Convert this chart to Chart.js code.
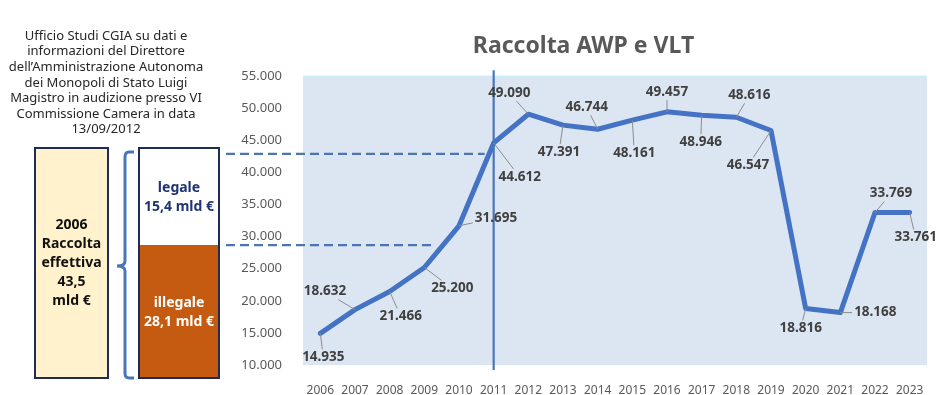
<!DOCTYPE html>
<html>
<head>
<meta charset="utf-8">
<script src="https://cdn.jsdelivr.net/npm/chart.js@4"></script>
<style>
  html, body { margin: 0; padding: 0; background: #fff; }
  #wrap { width: 945px; height: 395px; }
</style>
</head>
<body>
<div id="wrap"><canvas id="raccoltaChart"></canvas></div>
<script>
const years = ["2006", "2007", "2008", "2009", "2010", "2011", "2012", "2013", "2014",
  "2015", "2016", "2017", "2018", "2019", "2020", "2021", "2022", "2023"];
const raccolta = [14935, 18632, 21466, 25200, 31695, 44612, 49090, 47391, 46744,
  48161, 49457, 48946, 48616, 46547, 18816, 18168, 33769, 33761];
const yMin = 10000, yMax = 55000, yStep = 5000;

const sourceLines = [
  "Ufficio Studi CGIA su dati e",
  "informazioni del Direttore",
  "dell\u2019Amministrazione Autonoma",
  "dei Monopoli di Stato Luigi",
  "Magistro in audizione presso VI",
  "Commissione Camera in data",
  "13/09/2012"
];
const boxTotal = ["2006", "Raccolta", "effettiva", "43,5", "mld \u20ac"];
const boxLegale = ["legale", "15,4 mld \u20ac"];
const boxIllegale = ["illegale", "28,1 mld \u20ac"];
const dashedLevels = [42900, 28700];
const markerYear = "2011";

// where each value label sits relative to its point (px)
const labelOffsets = [
  [3, 24], [-30, -18], [11, 25], [28, 21], [37, -8], [26, 34], [-19, -21], [-4, 27], [-11, -22],
  [2, 33], [0, -20], [-1, 27], [13, -22], [-23, 35], [-5, 20], [35, 0], [16, -19], [6, 25]
];

const FONT = "'Noto Sans', sans-serif";
const fmt = (v) => String(v).replace(/\B(?=(\d{3})+(?!\d))/g, ".");

const decorations = {
  id: "decorations",
  beforeDraw(chart) {
    const { ctx, chartArea: a } = chart;
    ctx.save();
    ctx.fillStyle = "#dce6f2";
    ctx.fillRect(a.left, a.top, a.right - a.left, a.bottom - a.top);
    ctx.strokeStyle = "#cdeef8";
    ctx.lineWidth = 1.5;
    ctx.beginPath();
    ctx.moveTo(a.left, a.top);
    ctx.lineTo(a.right, a.top);
    ctx.stroke();
    ctx.restore();
  },
  beforeDatasetsDraw(chart) {
    const { ctx, chartArea: a, scales: { x, y } } = chart;
    ctx.save();
    ctx.strokeStyle = "#4a76b8";
    ctx.lineWidth = 2.2;
    const mx = x.getPixelForValue(years.indexOf(markerYear));
    ctx.beginPath();
    ctx.moveTo(mx, a.top - 6);
    ctx.lineTo(mx, a.bottom + 5);
    ctx.stroke();

    ctx.setLineDash([9, 5]);
    const ends = [mx - 9, x.getPixelForValue(3) + 10];
    dashedLevels.forEach((lv, i) => {
      const py = y.getPixelForValue(lv);
      ctx.beginPath();
      ctx.moveTo(226, py);
      ctx.lineTo(ends[i], py);
      ctx.stroke();
    });
    ctx.restore();
  },
  afterDatasetsDraw(chart) {
    const { ctx } = chart;
    const pts = chart.getDatasetMeta(0).data;
    ctx.save();
    ctx.font = "bold 13.5px " + FONT;
    ctx.textAlign = "center";
    ctx.textBaseline = "middle";
    pts.forEach((p, i) => {
      const txt = fmt(raccolta[i]);
      const [dx, dy] = labelOffsets[i];
      const cx = p.x + dx, cy = p.y + dy;
      const hw = ctx.measureText(txt).width / 2 + 2, hh = 8;
      const vx = p.x - cx, vy = p.y - cy;
      const s = Math.min(vx ? hw / Math.abs(vx) : Infinity, vy ? hh / Math.abs(vy) : Infinity);
      if (s < 1) {
        ctx.strokeStyle = "#8c8c8c";
        ctx.lineWidth = 1;
        ctx.beginPath();
        ctx.moveTo(cx + vx * s, cy + vy * s);
        ctx.lineTo(p.x, p.y);
        ctx.stroke();
      }
      ctx.fillStyle = "#404040";
      ctx.fillText(txt, cx, cy);
    });
    ctx.restore();
  },
  afterDraw(chart) {
    const { ctx } = chart;
    ctx.save();
    ctx.textAlign = "center";
    ctx.textBaseline = "middle";

    ctx.fillStyle = "#262626";
    ctx.font = "13px " + FONT;
    sourceLines.forEach((t, i) => ctx.fillText(t, 106, 36 + i * 15.6));

    // total box
    ctx.fillStyle = "#fff2cc";
    ctx.fillRect(35, 148, 73, 230);
    ctx.strokeStyle = "#1f2a55";
    ctx.lineWidth = 2;
    ctx.strokeRect(35, 148, 73, 230);
    ctx.fillStyle = "#111";
    ctx.font = "bold 14px " + FONT;
    boxTotal.forEach((t, i) => ctx.fillText(t, 71.5, 225 + i * 19));

    // legale / illegale box
    ctx.fillStyle = "#c55a11";
    ctx.fillRect(139, 245, 80, 133);
    ctx.strokeRect(139, 148, 80, 230);
    ctx.fillStyle = "#1f3472";
    boxLegale.forEach((t, i) => ctx.fillText(t, 179, 188 + i * 19));
    ctx.fillStyle = "#fff";
    boxIllegale.forEach((t, i) => ctx.fillText(t, 179, 303 + i * 19));

    // brace
    ctx.strokeStyle = "#4a76b8";
    ctx.lineWidth = 3;
    ctx.beginPath();
    ctx.moveTo(134, 152);
    ctx.lineTo(129, 152);
    ctx.quadraticCurveTo(125, 152, 125, 157);
    ctx.lineTo(125, 261);
    ctx.quadraticCurveTo(125, 266, 117, 266);
    ctx.quadraticCurveTo(125, 266, 125, 271);
    ctx.lineTo(125, 373);
    ctx.quadraticCurveTo(125, 378, 129, 378);
    ctx.lineTo(134, 378);
    ctx.stroke();
    ctx.restore();
  }
};

new Chart(document.getElementById("raccoltaChart"), {
  type: "line",
  data: {
    labels: years,
    datasets: [{
      label: "Raccolta AWP e VLT",
      data: raccolta,
      borderColor: "#4472c4",
      borderWidth: 5,
      borderJoinStyle: "round",
      borderCapStyle: "round",
      pointRadius: 0,
      tension: 0,
      fill: false
    }]
  },
  options: {
    responsive: true,
    maintainAspectRatio: false,
    animation: false,
    layout: { padding: { left: 240, right: 18, top: 0, bottom: 0 } },
    plugins: {
      legend: { display: false },
      tooltip: { enabled: false },
      title: {
        display: true,
        text: "Raccolta AWP e VLT",
        color: "#595959",
        font: { family: FONT, size: 23, weight: "bold", lineHeight: 1.1 },
        padding: { top: 34, bottom: 17 }
      }
    },
    scales: {
      x: {
        offset: true,
        grid: { display: false },
        border: { display: false },
        ticks: { color: "#595959", font: { family: FONT, size: 12 }, padding: 10, maxRotation: 0, autoSkip: false },
        afterFit: (axis) => { axis.height = 30; }
      },
      y: {
        min: yMin,
        max: yMax,
        grid: { display: false },
        border: { display: false },
        ticks: { stepSize: yStep, color: "#595959", font: { family: FONT, size: 13 }, padding: 13, callback: (v) => fmt(v) },
        afterFit: (axis) => { axis.width = 63; }
      }
    }
  },
  plugins: [decorations]
});
</script>
</body>
</html>
